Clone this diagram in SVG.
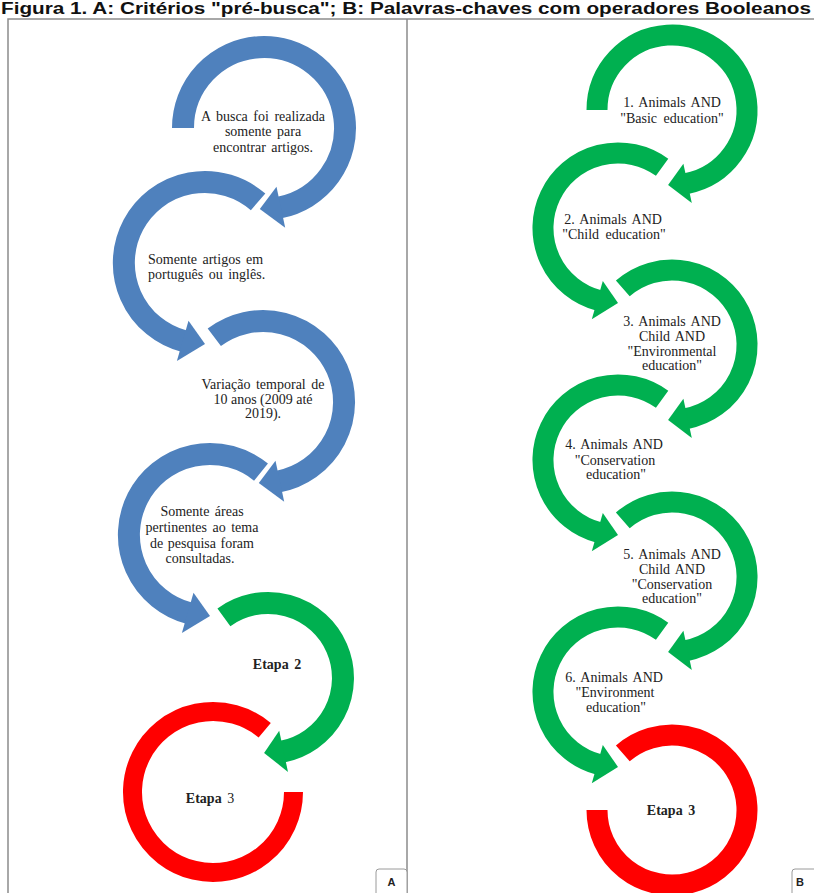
<svg xmlns="http://www.w3.org/2000/svg" width="814" height="893" viewBox="0 0 814 893">
<style>
.arc{fill:none;stroke-linecap:butt}
.bl{stroke:#4F81BD}.blf{fill:#4F81BD}
.gr{stroke:#00B050}.grf{fill:#00B050}
.rd{stroke:#FF0000}
.wa{stroke-width:22}.wb{stroke-width:21}.wr{stroke-width:19}
.t{font-family:"Liberation Serif","Times New Roman",serif;font-size:14px;fill:#222;text-anchor:middle}
.tl{text-anchor:start}
.b{font-weight:bold}
.frame{fill:none;stroke:#8c8c8c;stroke-width:1.5}
.lab{fill:#fff;stroke:#9a9a9a;stroke-width:1}
.labt{font-family:"Liberation Sans",Arial,sans-serif;font-size:11px;font-weight:bold;fill:#222;text-anchor:middle}
</style>
<rect width="814" height="893" fill="#fff"/>
<text x="1" y="14" font-family="'Liberation Sans',Arial,sans-serif" font-size="16" font-weight="bold" fill="#111" textLength="810" lengthAdjust="spacingAndGlyphs">Figura 1. A: Critérios "pré-busca"; B: Palavras-chaves com operadores Booleanos</text>
<g id="frames">
<path class="frame" d="M8 893 V19 H814 M407 19 V893"/>
</g>
<g id="connectors"></g>
<g id="a1">
<path class="arc bl wa" d="M183 128 A81 81 0 1 1 279.5 207.5"/>
<polygon class="blf" points="276.5,186.7 285.2,227.8 259.8,208.9"/>
<text class="t" x="263" y="121" word-spacing="2">A busca foi realizada</text>
<text class="t" x="263" y="136" word-spacing="2">somente para</text>
<text class="t" x="263" y="152" word-spacing="2">encontrar artigos.</text>
</g>
<g id="a2">
<path class="arc bl wa" d="M258.1 201.9 A81 81 0 1 0 184 341.2"/>
<polygon class="blf" points="188.5,320.7 176.9,361.1 205,344"/>
<text class="t tl" x="148" y="264" word-spacing="2">Somente artigos em</text>
<text class="t tl" x="148" y="279" word-spacing="2">português ou inglês.</text>
</g>
<g id="a3">
<path class="arc bl wa" d="M214.3 337.3 A81 81 0 1 1 278.5 481.5"/>
<polygon class="blf" points="275.5,460.7 284.2,501.8 258.8,482.9"/>
<text class="t" x="263" y="389" word-spacing="2">Variação temporal de</text>
<text class="t" x="263" y="404">10 anos (2009 até</text>
<text class="t" x="263" y="418">2019).</text>
</g>
<g id="a4">
<path class="arc bl wa" d="M261 472.1 A81 81 0 1 0 189 613.2"/>
<polygon class="blf" points="193.5,592.7 181.9,633.1 210,616"/>
<text class="t" x="202" y="516" word-spacing="2">Somente áreas</text>
<text class="t" x="202" y="532" word-spacing="2">pertinentes ao tema</text>
<text class="t" x="202" y="548" word-spacing="1">de pesquisa foram</text>
<text class="t" x="200" y="563">consultadas.</text>
</g>
<g id="a5">
<path class="arc gr wa" d="M223.9 617.3 A75 75 0 1 1 282.3 751.6"/>
<polygon class="grf" points="279.2,730.8 288,771.9 264.1,752.9"/>
<text class="t b" x="277" y="669" word-spacing="2">Etapa 2</text>
</g>
<g id="a6">
<path class="arc rd wr" d="M264.7 730.3 A80.5 80.5 0 1 0 293.5 792"/>
<text class="t" x="210" y="803" word-spacing="2"><tspan class="b">Etapa</tspan> 3</text>
</g>
<g id="b1">
<path class="arc gr wb" d="M597 110 A75 75 0 1 1 686.3 183.6"/>
<polygon class="grf" points="683.4,163.8 691.8,202.9 668.1,184.9"/>
<text class="t" x="672" y="107" word-spacing="2">1. Animals AND</text>
<text class="t" x="672" y="123" word-spacing="3">"Basic education"</text>
</g>
<g id="b2">
<path class="arc gr wb" d="M662.1 167.3 A75 75 0 1 0 598.6 300.4"/>
<polygon class="grf" points="602.8,280.9 591.8,319.3 618,303"/>
<text class="t" x="613" y="224" word-spacing="2">2. Animals AND</text>
<text class="t" x="614" y="239" word-spacing="3">"Child education"</text>
</g>
<g id="b3">
<path class="arc gr wb" d="M622.8 288.4 A75 75 0 1 1 686.3 418.6"/>
<polygon class="grf" points="683.4,398.8 691.8,437.9 668.1,419.9"/>
<text class="t" x="672" y="326" word-spacing="2">3. Animals AND</text>
<text class="t" x="672" y="341" word-spacing="2">Child AND</text>
<text class="t" x="672" y="356">"Environmental</text>
<text class="t" x="672" y="370">education"</text>
</g>
<g id="b4">
<path class="arc gr wb" d="M662.1 399.3 A75 75 0 1 0 598.6 532.4"/>
<polygon class="grf" points="602.8,512.9 591.8,551.3 618,535"/>
<text class="t" x="614" y="449" word-spacing="2">4. Animals AND</text>
<text class="t" x="615" y="465">"Conservation</text>
<text class="t" x="616" y="479">education"</text>
</g>
<g id="b5">
<path class="arc gr wb" d="M622.8 520.4 A75 75 0 1 1 686.3 650.6"/>
<polygon class="grf" points="683.4,630.8 691.8,669.9 668.1,651.9"/>
<text class="t" x="672" y="559" word-spacing="2">5. Animals AND</text>
<text class="t" x="672" y="574" word-spacing="2">Child AND</text>
<text class="t" x="672" y="589">"Conservation</text>
<text class="t" x="672" y="603">education"</text>
</g>
<g id="b6">
<path class="arc gr wb" d="M662.1 631.3 A75 75 0 1 0 598.6 764.4"/>
<polygon class="grf" points="602.8,744.9 591.8,783.3 618,767"/>
<text class="t" x="614" y="682" word-spacing="2">6. Animals AND</text>
<text class="t" x="615" y="697">"Environment</text>
<text class="t" x="616" y="712">education"</text>
</g>
<g id="b7">
<path class="arc rd wb" d="M622.8 753.4 A75 75 0 1 1 597 810"/>
<text class="t b" x="671" y="815" word-spacing="2">Etapa 3</text>
</g>
<g id="labelA">
<rect class="lab" x="376" y="869" width="31" height="30" rx="3"/>
<text class="labt" x="391.5" y="886">A</text>
</g>
<g id="labelB">
<rect class="lab" x="792" y="869" width="30" height="30" rx="3"/>
<text class="labt" x="800" y="886">B</text>
</g>
</svg>
